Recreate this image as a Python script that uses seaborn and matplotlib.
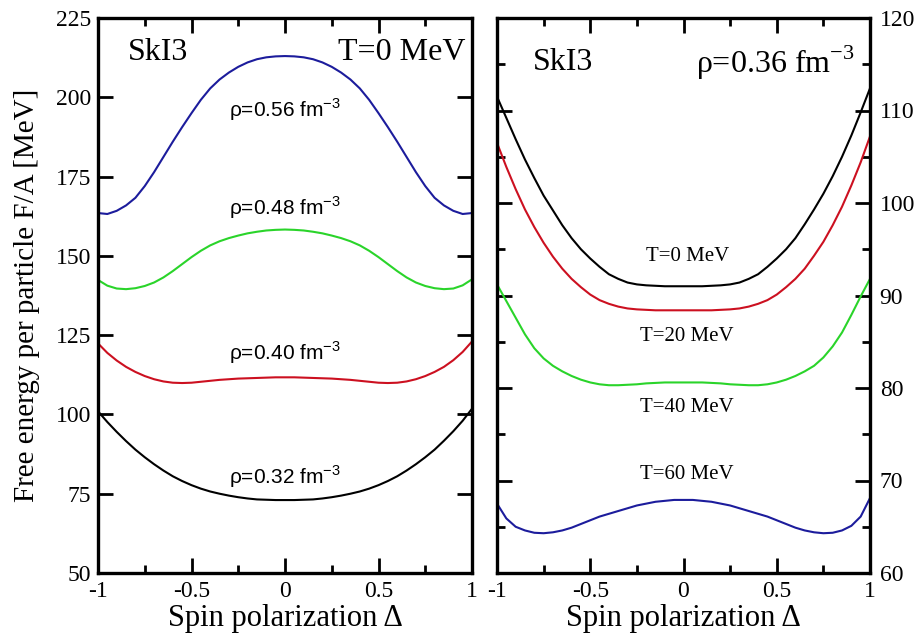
import matplotlib
matplotlib.use("Agg")
import matplotlib.pyplot as plt
from matplotlib.ticker import MultipleLocator, FixedLocator
import seaborn as sns
import pandas as pd

# ---------------- data ----------------
delta = [-1.0, -0.95, -0.9, -0.85, -0.8, -0.75, -0.7, -0.65, -0.6, -0.55,
         -0.5, -0.45, -0.4, -0.35, -0.3, -0.25, -0.2, -0.15, -0.1, -0.05,
         0.0, 0.05, 0.1, 0.15, 0.2, 0.25, 0.3, 0.35, 0.4, 0.45,
         0.5, 0.55, 0.6, 0.65, 0.7, 0.75, 0.8, 0.85, 0.9, 0.95, 1.0]

# left panel: T = 0 MeV, various densities (fm^-3)
rho_labels = ["0.32", "0.40", "0.48", "0.56"]
fa_rho032 = [101.0, 97.6, 94.5, 91.6, 88.9, 86.5, 84.3, 82.3, 80.5, 79.0,
             77.7, 76.6, 75.7, 75.0, 74.4, 73.9, 73.5, 73.2, 73.1, 73.0,
             73.0, 73.0, 73.1, 73.2, 73.5, 73.9, 74.4, 75.0, 75.7, 76.6,
             77.7, 79.0, 80.5, 82.3, 84.3, 86.5, 88.9, 91.7, 94.7, 98.0, 101.8]
fa_rho040 = [122.4, 119.4, 117.0, 115.0, 113.4, 112.1, 111.1, 110.4, 110.0, 109.9,
             110.0, 110.3, 110.6, 110.9, 111.1, 111.3, 111.4, 111.5, 111.6, 111.7,
             111.7, 111.7, 111.6, 111.5, 111.4, 111.3, 111.1, 110.9, 110.6, 110.3,
             110.0, 109.9, 110.0, 110.4, 111.1, 112.1, 113.4, 115.0, 117.1, 119.7, 123.0]
fa_rho048 = [142.4, 140.6, 139.7, 139.5, 139.8, 140.5, 141.6, 143.2, 145.2, 147.4,
             149.6, 151.6, 153.3, 154.6, 155.6, 156.4, 157.1, 157.6, 158.0, 158.2,
             158.3, 158.2, 158.0, 157.6, 157.1, 156.4, 155.6, 154.6, 153.3, 151.6,
             149.6, 147.4, 145.2, 143.2, 141.6, 140.5, 139.8, 139.5, 139.7, 140.7, 142.6]
fa_rho056 = [163.5, 163.2, 164.2, 165.9, 168.3, 172.0, 176.4, 181.2, 186.0, 190.6,
             195.0, 199.2, 202.8, 205.6, 207.8, 209.6, 211.0, 212.0, 212.6, 212.9,
             213.0, 212.9, 212.6, 212.0, 211.0, 209.6, 207.8, 205.6, 202.8, 199.2,
             195.0, 190.6, 186.0, 181.2, 176.4, 172.0, 168.3, 165.9, 164.2, 163.2, 163.5]

# right panel: rho = 0.36 fm^-3, various temperatures (MeV)
temp_labels = ["0", "20", "40", "60"]
fa_T0 = [111.5, 109.2, 106.9, 104.7, 102.7, 100.8, 99.2, 97.6, 96.2, 95.0,
         94.0, 93.1, 92.3, 91.8, 91.4, 91.2, 91.1, 91.05, 91.0, 91.0,
         91.0, 91.0, 91.0, 91.05, 91.1, 91.2, 91.4, 91.8, 92.3, 93.1,
         94.0, 95.0, 96.2, 97.7, 99.3, 101.0, 102.9, 105.0, 107.3, 109.8, 112.4]
fa_T20 = [106.5, 103.9, 101.5, 99.3, 97.4, 95.7, 94.2, 92.9, 91.8, 90.9,
          90.1, 89.5, 89.1, 88.8, 88.6, 88.5, 88.45, 88.4, 88.4, 88.4,
          88.4, 88.4, 88.4, 88.4, 88.45, 88.5, 88.6, 88.8, 89.1, 89.5,
          90.1, 90.9, 91.8, 92.9, 94.3, 95.8, 97.6, 99.6, 101.9, 104.4, 107.2]
fa_T40 = [91.2, 89.4, 87.6, 85.8, 84.3, 83.2, 82.4, 81.8, 81.3, 80.9,
          80.6, 80.4, 80.3, 80.3, 80.35, 80.4, 80.5, 80.55, 80.6, 80.6,
          80.6, 80.6, 80.6, 80.55, 80.5, 80.4, 80.35, 80.3, 80.3, 80.4,
          80.6, 80.9, 81.3, 81.8, 82.4, 83.3, 84.5, 86.0, 87.9, 89.9, 91.8]
fa_T60 = [67.5, 65.9, 65.0, 64.6, 64.35, 64.3, 64.4, 64.6, 64.9, 65.3,
          65.7, 66.1, 66.4, 66.7, 67.0, 67.3, 67.5, 67.7, 67.8, 67.9,
          67.9, 67.9, 67.8, 67.7, 67.5, 67.3, 67.0, 66.7, 66.4, 66.1,
          65.7, 65.3, 64.9, 64.6, 64.4, 64.3, 64.35, 64.6, 65.1, 66.1, 68.1]

xtick_values = [-1, -0.5, 0, 0.5, 1]
xtick_labels = ["-1", "-0.5", "0", "0.5", "1"]
left_yticks = [50, 75, 100, 125, 150, 175, 200, 225]
right_yticks = [60, 70, 80, 90, 100, 110, 120]

# ---------------- style ----------------
sns.set_theme(style="white")
plt.rcParams["font.family"] = ["Liberation Serif", "DejaVu Serif"]
plt.rcParams["mathtext.fontset"] = "custom"
plt.rcParams["mathtext.rm"] = "Liberation Serif"
plt.rcParams["mathtext.sf"] = "Liberation Sans"
plt.rcParams["axes.linewidth"] = 2.4
plt.rcParams["axes.edgecolor"] = "black"
plt.rcParams["text.color"] = "black"
plt.rcParams["axes.labelcolor"] = "black"
plt.rcParams["xtick.color"] = "black"
plt.rcParams["ytick.color"] = "black"

BLACK, RED, GREEN, BLUE = "#000000", "#cc1020", "#2ad42a", "#1c1c9c"
palette = [BLACK, RED, GREEN, BLUE]

left_df = pd.concat([
    pd.DataFrame({"delta": delta, "fa": vals, "rho": lab})
    for lab, vals in zip(rho_labels, [fa_rho032, fa_rho040, fa_rho048, fa_rho056])
])
right_df = pd.concat([
    pd.DataFrame({"delta": delta, "fa": vals, "T": lab})
    for lab, vals in zip(temp_labels, [fa_T0, fa_T20, fa_T40, fa_T60])
])

fig = plt.figure(figsize=(9.22, 6.35), dpi=100)
axL = fig.add_axes([98 / 922, 62 / 635, 374 / 922, 555 / 635])
axR = fig.add_axes([497 / 922, 62 / 635, 373 / 922, 555 / 635])

sns.lineplot(data=left_df, x="delta", y="fa", hue="rho", palette=palette,
             ax=axL, legend=False, linewidth=1.5, sort=False, estimator=None)
sns.lineplot(data=right_df, x="delta", y="fa", hue="T", palette=palette,
             ax=axR, legend=False, linewidth=1.5, sort=False, estimator=None)

for ax in (axL, axR):
    ax.set_xlim(-1, 1)
    ax.xaxis.set_major_locator(FixedLocator(xtick_values))
    ax.set_xticklabels(xtick_labels)
    ax.xaxis.set_minor_locator(MultipleLocator(0.25))
    ax.tick_params(axis="both", which="both", direction="in", top=True, bottom=True,
                   left=True, right=True, labelsize=17, colors="black")
    ax.tick_params(axis="both", which="major", length=11, width=2)
    ax.tick_params(axis="both", which="minor", length=6, width=2)
    ax.tick_params(axis="x", pad=6)
    ax.set_xlabel("Spin polarization Δ", fontsize=22, labelpad=1, color="black")
    for s in ax.spines.values():
        s.set_linewidth(2.4)
        s.set_color("black")

axL.set_ylim(50, 225)
axL.yaxis.set_major_locator(FixedLocator(left_yticks))
axL.tick_params(axis="y", pad=5)
axL.set_ylabel("Free energy per particle F/A [MeV]", fontsize=21, color="black")
axL.yaxis.set_label_coords(-0.155, 0.5)

axR.set_ylim(60, 120)
axR.yaxis.set_major_locator(FixedLocator(right_yticks))
axR.yaxis.set_minor_locator(MultipleLocator(5))
axR.yaxis.tick_right()
axR.tick_params(axis="y", which="both", left=True, right=True, labelleft=False,
                labelright=True, pad=7)
axR.set_ylabel("")

# ---------------- annotations ----------------
axL.text(-0.84, 214.0, "SkI3", fontsize=23, va="center", ha="left", color="black")
axL.text(0.965, 214.0, "T=0 MeV", fontsize=23, va="center", ha="right", color="black")
rho_text_y = [80.3, 119.4, 165.1, 196.0]
for lab, yy in zip(rho_labels, rho_text_y):
    axL.text(0.0, yy, "ρ=" + lab + r" fm$^{\mathsf{-3}}$", fontsize=15, ha="center",
             va="center", color="black", family=["Liberation Sans", "DejaVu Sans"])

axR.text(-0.81, 115.2, "SkI3", fontsize=23, va="center", ha="left", color="black")
axR.text(0.92, 115.2, r"ρ=0.36 fm$^{-3}$", fontsize=23, va="center", ha="right",
         color="black")
T_text_y = [94.2, 85.55, 77.9, 70.7]
for lab, yy in zip(temp_labels, T_text_y):
    axR.text(0.02, yy, "T=" + lab + " MeV", fontsize=15, ha="center", va="center",
             color="black")

fig.savefig("out.png", dpi=100)
